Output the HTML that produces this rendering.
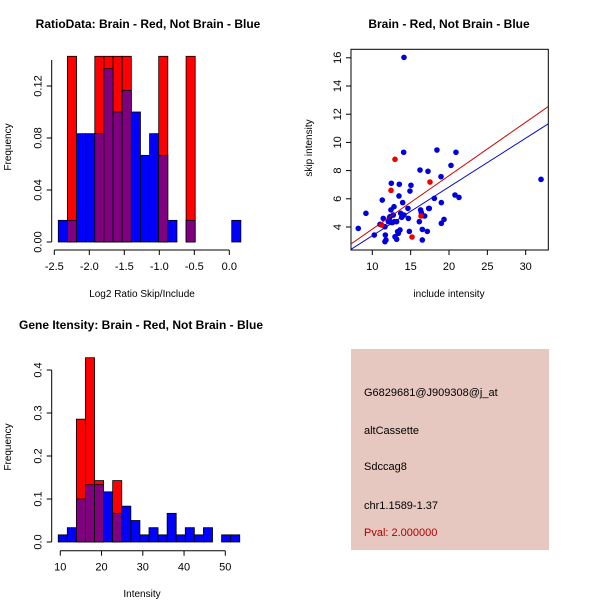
<!DOCTYPE html>
<html><head><meta charset="utf-8"><style>
body{margin:0;background:#fff;}
svg{display:block;font-family:"Liberation Sans",sans-serif;}
</style></head><body>
<svg id="svg" width="600" height="600" viewBox="0 0 600 600">
<g id="h1"></g>
<g id="sc"></g>
<g id="h2"></g>
<g>
<rect x="351" y="349" width="198" height="201" fill="#e6c8c0"/>
<text x="364" y="396" font-size="11">G6829681@J909308@j_at</text>
<text x="364" y="434" font-size="11">altCassette</text>
<text x="364" y="470" font-size="11">Sdccag8</text>
<text x="364" y="509" font-size="11">chr1.1589-1.37</text>
<text x="364" y="536" font-size="11" fill="#b00000">Pval: 2.000000</text>
</g>
</svg>
<script>
// Histogram 1 data
const h1Start = -2.443, h1Width = 0.1304;
const h1Blue = [1,1,5,5,5,8,6,7,6,4,5,4,1,0,1,0,0,0,0,1].map(v=>v/60);
const h1Red = [0,1,0,0,1,1,1,1,0,0,0,1,0,0,1,0,0,0,0,0].map(v=>v/7);
const h1XTicks = [-2.5,-2.0,-1.5,-1.0,-0.5,0.0];
const h1XLabels = ["-2.5","-2.0","-1.5","-1.0","-0.5","0.0"];
const h1YTicks = [0,0.04,0.08,0.12];
const h1YLabels = ["0.00","0.04","0.08","0.12"];
// Histogram 2 data
const h2Start = 9.5, h2Width = 2.2;
const h2Blue = [1,2,6,8,8,7,4,5,3,1,2,1,4,1,2,1,2,0,1,1].map(v=>v/60);
const h2Red = [0,0,2,3,1,0,1,0,0,0,0,0,0,0,0,0,0,0,0,0].map(v=>v/7);
const h2XTicks = [10,20,30,40,50];
const h2YTicks = [0,0.1,0.2,0.3,0.4];
const h2YLabels = ["0.0","0.1","0.2","0.3","0.4"];
// Scatter data
const blueX = [8.17,9.17,10.26,11.0,11.3,11.43,11.65,11.7,11.65,11.78,12.09,12.22,12.3,12.43,12.48,12.57,12.74,12.83,12.87,12.96,13.17,13.17,13.3,13.39,13.48,13.52,13.61,13.7,13.83,13.96,14.09,14.13,14.13,14.65,14.7,14.83,14.91,15.04,16.13,16.22,16.3,16.39,16.52,16.52,16.83,17.17,17.26,17.35,17.43,18.09,18.43,18.96,19.0,19.0,19.35,20.26,20.78,20.91,21.3,32.0];
const blueY = [3.9,4.97,3.43,4.19,5.91,4.61,4.02,3.43,2.96,3.08,4.38,4.61,4.73,5.21,7.1,4.31,4.85,5.44,4.38,3.31,4.38,3.13,3.67,3.55,6.2,7.03,3.79,4.97,4.69,5.73,9.3,16.03,4.85,5.32,4.61,3.69,6.55,6.96,4.38,8.04,5.21,5.02,3.83,3.08,4.78,3.69,7.95,5.32,5.32,6.03,9.46,7.57,5.73,4.26,4.54,8.37,6.27,9.3,6.1,7.38];
const redX = [11.23,16.35,12.96,17.52,12.44,15.18];
const redY = [4.14,4.78,8.8,7.19,6.6,3.29];
const redFit = [0.06,0.379];
const blueFit = [-0.08,0.346];
const scXTicks = [10,15,20,25,30];
const scYTicks = [4,6,8,10,12,14,16];

const NS="http://www.w3.org/2000/svg";
function mk(parent,tag,attrs,name,text){const e=document.createElementNS(NS,tag);for(const k in attrs)e.setAttribute(k,attrs[k]);


if(text!==undefined)e.textContent=text;parent.appendChild(e);return e;}

function hist(g,o){
  const sx=v=>o.x0+(v-o.xmin)*o.kx, sy=v=>o.y0-v*o.ky;
  for(let i=0;i<o.blue.length;i++){
    const a=o.start+i*o.w, x1=sx(a), x2=sx(a+o.w);
    const b=o.blue[i], r=o.red[i];
    const hi=Math.max(b,r), lo=Math.min(b,r);
    if(hi>0) mk(g,'rect',{x:x1,y:sy(hi),width:x2-x1,height:sy(0)-sy(hi),fill:r>b?'#ff0000':'#0000ff',stroke:'#000','stroke-width':0.8},'bar-'+i);
    if(lo>0) mk(g,'rect',{x:x1,y:sy(lo),width:x2-x1,height:sy(0)-sy(lo),fill:'#800080',stroke:'#000','stroke-width':0.8},'bar-overlap-'+i);
  }
  const xa=sx(o.xt[0]), xb=sx(o.xt[o.xt.length-1]);
  mk(g,'line',{x1:xa,x2:xb,y1:o.axY,y2:o.axY,stroke:'#000'},'x-axis');
  o.xt.forEach((t,i)=>{mk(g,'line',{x1:sx(t),x2:sx(t),y1:o.axY,y2:o.axY+5,stroke:'#000'},'x-tick');
    mk(g,'text',{x:sx(t),y:o.axY+20,'font-size':11,'text-anchor':'middle'},'x-tick-label',o.xl[i]);});
  const ya=sy(o.yt[0]), yb=sy(o.yt[o.yt.length-1]);
  mk(g,'line',{x1:o.axX,x2:o.axX,y1:ya,y2:o.ytop!==undefined?sy(o.ytop):yb,stroke:'#000'},'y-axis');
  o.yt.forEach((t,i)=>{mk(g,'line',{x1:o.axX-5,x2:o.axX,y1:sy(t),y2:sy(t),stroke:'#000'},'y-tick');
    mk(g,'text',{x:o.axX-10,y:sy(t),'font-size':11,'text-anchor':'middle',transform:`rotate(-90 ${o.axX-10} ${sy(t)})`},'y-tick-label',o.yl[i]);});
  mk(g,'text',{x:11,y:o.ylabY,'font-size':10,'text-anchor':'middle',transform:`rotate(-90 11 ${o.ylabY})`},'y-axis-title','Frequency');
  mk(g,'text',{x:o.xlabX,y:o.xlabY,'font-size':10,'text-anchor':'middle'},'x-axis-title',o.xlab);
  mk(g,'text',{x:o.titleX,y:o.titleY,'font-size':12,'font-weight':'bold','text-anchor':'middle'},'chart-title',o.title);
}
hist(document.getElementById('h1'),{xmin:-2.5,x0:54.3,kx:70,y0:242,ky:1300,start:h1Start,w:h1Width,blue:h1Blue,red:h1Red,
  xt:h1XTicks,xl:h1XLabels,yt:h1YTicks,yl:h1YLabels,ytop:0.14,axY:250,axX:51.7,ylabY:147,xlabX:142,xlabY:297,xlab:'Log2 Ratio Skip/Include',
  titleX:148,titleY:28,title:'RatioData: Brain - Red, Not Brain - Blue'});
hist(document.getElementById('h2'),{xmin:10,x0:60.3,kx:4.125,y0:542,ky:430,start:h2Start,w:h2Width,blue:h2Blue,red:h2Red,
  xt:h2XTicks,xl:h2XTicks.map(String),yt:h2YTicks,yl:h2YLabels,axY:550.7,axX:51.7,ylabY:447,xlabX:142,xlabY:597,xlab:'Intensity',
  titleX:141,titleY:329,title:'Gene Itensity: Brain - Red, Not Brain - Blue'});

(function(){
  const g=document.getElementById('sc');
  const L=351,R=548.3,T=49.3,B=250;
  const sx=v=>372.3+(v-10)*7.67, sy=v=>227-(v-4)*14.1;
  mk(g,'rect',{x:L,y:T,width:R-L,height:B-T,fill:'none',stroke:'#000'},'plot-box');
  const cp=mk(g,'clipPath',{id:'scclip'},'clip');
  mk(cp,'rect',{x:L,y:T,width:R-L,height:B-T},'clip-rect');
  blueX.forEach((x,i)=>mk(g,'circle',{cx:sx(x),cy:sy(blueY[i]),r:2.8,fill:'#0000dd'},'blue-point'));
  redX.forEach((x,i)=>mk(g,'circle',{cx:sx(x),cy:sy(redY[i]),r:2.8,fill:'#ee0000'},'red-point'));
  const xl=(L-372.3)/7.67+10, xr=(R-372.3)/7.67+10;
  [[redFit,'#cc0000','red-fit-line'],[blueFit,'#0000cc','blue-fit-line']].forEach(([f,c,n])=>
    mk(g,'line',{x1:sx(xl),y1:sy(f[0]+f[1]*xl),x2:sx(xr),y2:sy(f[0]+f[1]*xr),stroke:c,'stroke-width':1,'clip-path':'url(#scclip)'},n));
  scXTicks.forEach(t=>{mk(g,'line',{x1:sx(t),x2:sx(t),y1:B,y2:B+5,stroke:'#000'},'x-tick');
    mk(g,'text',{x:sx(t),y:B+20,'font-size':11,'text-anchor':'middle'},'x-tick-label',String(t));});
  scYTicks.forEach(t=>{mk(g,'line',{x1:L-5,x2:L,y1:sy(t),y2:sy(t),stroke:'#000'},'y-tick');
    mk(g,'text',{x:L-10,y:sy(t),'font-size':11,'text-anchor':'middle',transform:`rotate(-90 ${L-10} ${sy(t)})`},'y-tick-label',String(t));});
  mk(g,'text',{x:312,y:148,'font-size':10,'text-anchor':'middle',transform:'rotate(-90 312 148)'},'y-axis-title','skip intensity');
  mk(g,'text',{x:449,y:297,'font-size':10,'text-anchor':'middle'},'x-axis-title','include intensity');
  mk(g,'text',{x:449,y:28,'font-size':12,'font-weight':'bold','text-anchor':'middle'},'chart-title','Brain - Red, Not Brain - Blue');
})();
</script>
</body></html>
